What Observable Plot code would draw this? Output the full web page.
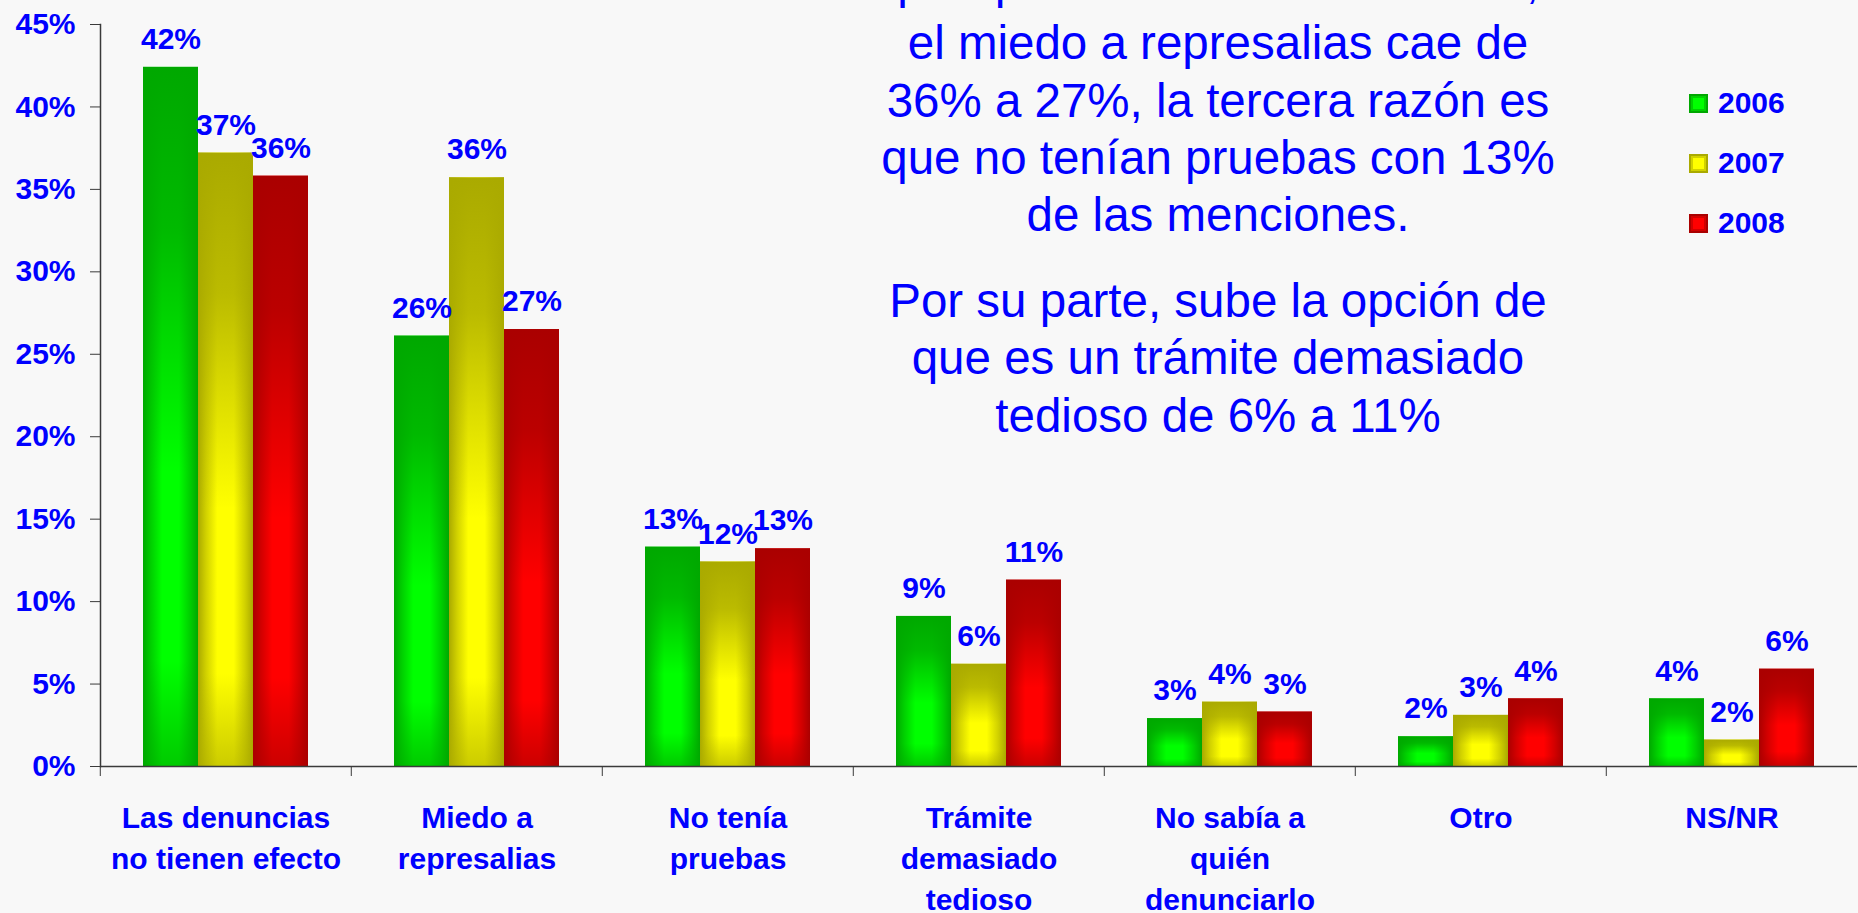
<!DOCTYPE html>
<html>
<head>
<meta charset="utf-8">
<script src="https://cdn.jsdelivr.net/npm/d3@7"></script>
<script src="https://cdn.jsdelivr.net/npm/@observablehq/plot@0.6"></script>
<style>
  html, body { margin: 0; padding: 0; background: #f8f8f8; overflow: hidden; width: 1858px; height: 913px; }
  #wrap { position: relative; width: 1858px; height: 913px; overflow: hidden; }
  #chart { position: absolute; left: 0; top: 0; }
  #note { position: absolute; left: 718px; width: 1000px; top: -43px; text-align: center;
          font-family: 'Liberation Sans', Arial, sans-serif; font-size: 47.5px; line-height: 57.3px; color: #0000ff; }
  #note p { margin: 0; }
  #note p + p { margin-top: 28.7px; }
  #note .cut { position: relative; top: -4px; }
  #legend { position: absolute; left: 1689px; top: 73px; font-family: 'Liberation Sans', Arial, sans-serif;
            font-weight: bold; font-size: 30px; color: #0000ff; }
  .row { height: 60px; display: flex; align-items: center; }
  .sw { width: 19px; height: 19px; margin-right: 10px; box-sizing: border-box; }
</style>
</head>
<body>
<div id="wrap">
  <div id="chart"></div>
  <div id="note"></div>
  <div id="legend"></div>
</div>
<script>
// ---- data ----
const categories = [
  "Las denuncias\nno tienen efecto",
  "Miedo a\nrepresalias",
  "No tenía\npruebas",
  "Trámite\ndemasiado\ntedioso",
  "No sabía a\nquién\ndenunciarlo",
  "Otro",
  "NS/NR"
];
const years = ["2006", "2007", "2008"];
const values2006 = [42.4, 26.1, 13.3, 9.1, 2.9, 1.8, 4.1];
const values2007 = [37.2, 35.7, 12.4, 6.2, 3.9, 3.1, 1.6];
const values2008 = [35.8, 26.5, 13.2, 11.3, 3.3, 4.1, 5.9];
const labels2006 = ["42%", "26%", "13%", "9%", "3%", "2%", "4%"];
const labels2007 = ["37%", "36%", "12%", "6%", "4%", "3%", "2%"];
const labels2008 = ["36%", "27%", "13%", "11%", "3%", "4%", "6%"];
const yTicks = [0, 5, 10, 15, 20, 25, 30, 35, 40, 45];
const noteParagraph1 = [
  "por que esto no sirve de nada,",
  "el miedo a represalias cae de",
  "36% a 27%, la tercera razón es",
  "que no tenían pruebas con 13%",
  "de las menciones."
];
const noteParagraph2 = [
  "Por su parte, sube la opción de",
  "que es un trámite demasiado",
  "tedioso de 6% a 11%"
];

// ---- styles ----
const blue = "#0000ff";
const axisColor = "#3a3a3a";
const font = "'Liberation Sans', Arial, Helvetica, sans-serif";
const shades = {
  "2006": {dark: "#00a800", mid: "#00d000", bright: "#00ff00"},
  "2007": {dark: "#aaaa00", mid: "#d2d200", bright: "#ffff00"},
  "2008": {dark: "#aa0000", mid: "#d20000", bright: "#ff0000"}
};

const seriesValues = [values2006, values2007, values2008];
const seriesLabels = [labels2006, labels2007, labels2008];
const rows = [];
categories.forEach((c, i) => {
  years.forEach((yr, j) => rows.push({category: c, year: yr, value: seriesValues[j][i], label: seriesLabels[j][i]}));
});

const W = 1858, H = 913, mL = 98, mR = 0, mT = 24, mB = 147;
const bandStep = (W - mL - mR) / categories.length;

const chart = Plot.plot({
  width: W, height: H,
  marginLeft: mL, marginRight: mR, marginTop: mT, marginBottom: mB,
  style: {background: "transparent", fontFamily: font, overflow: "visible"},
  fx: {domain: categories, padding: 0, label: null},
  x: {domain: years, paddingInner: 0, paddingOuter: 0.76, axis: null},
  y: {domain: [0, 45], label: null},
  marks: [
    ...years.map(yr => Plot.barY(rows.filter(d => d.year === yr),
      {fx: "category", x: "year", y: "value", fill: `url(#h${yr})`})),
    ...years.map(yr => Plot.barY(rows.filter(d => d.year === yr),
      {fx: "category", x: "year", y: "value", fill: `url(#v${yr})`})),
    Plot.ruleY([0], {stroke: axisColor, strokeWidth: 1.5}),
    Plot.frame({anchor: "left", facetAnchor: "left", stroke: axisColor, strokeWidth: 1.5}),
    Plot.axisY({ticks: yTicks, tickFormat: d => d + "%", tickSize: 10, tickPadding: 15,
      fontSize: 30, fontWeight: "bold", fill: blue, stroke: axisColor, label: null}),
    Plot.axisFx({anchor: "bottom", tickSize: 10, fill: "none", tickFormat: () => "",
      stroke: axisColor, dx: -bandStep / 2, label: null}),
    Plot.axisFx({anchor: "bottom", tickSize: 0, tickPadding: 32, fontSize: 30, fontWeight: "bold",
      fill: blue, lineHeight: 1.37, label: null}),
    Plot.text(rows, {fx: "category", x: "year", y: "value", text: "label", dy: -28,
      fontSize: 30, fontWeight: "bold", fill: blue})
  ]
});

// gradient definitions (box-like gradient: horizontal ramp + vertical darkening overlay)
let defs = "";
years.forEach(yr => {
  const s = shades[yr];
  defs += `<linearGradient id="h${yr}" x1="0" x2="1" y1="0" y2="0">
    <stop offset="0" stop-color="${s.dark}"/>
    <stop offset="0.15" stop-color="${s.mid}"/>
    <stop offset="0.35" stop-color="${s.bright}"/>
    <stop offset="0.65" stop-color="${s.bright}"/>
    <stop offset="0.85" stop-color="${s.mid}"/>
    <stop offset="1" stop-color="${s.dark}"/>
  </linearGradient>
  <linearGradient id="v${yr}" x1="0" x2="0" y1="0" y2="1">
    <stop offset="0" stop-color="${s.dark}" stop-opacity="1"/>
    <stop offset="0.23" stop-color="${s.dark}" stop-opacity="0.8"/>
    <stop offset="0.4" stop-color="${s.dark}" stop-opacity="0.4"/>
    <stop offset="0.58" stop-color="${s.dark}" stop-opacity="0"/>
    <stop offset="0.85" stop-color="${s.dark}" stop-opacity="0"/>
    <stop offset="1" stop-color="${s.dark}" stop-opacity="0.6"/>
  </linearGradient>`;
});
d3.select(chart).insert("defs", ":first-child").html(defs);
document.getElementById("chart").appendChild(chart);

// annotation text
const note = d3.select("#note");
[noteParagraph1, noteParagraph2].forEach((par, k) => {
  const p = note.append("p");
  par.forEach((line, i) => {
    if (i) p.append("br");
    p.append("span").attr("class", k === 0 && i === 0 ? "cut" : null).text(line);
  });
});

// legend
const legend = d3.select("#legend");
years.forEach(yr => {
  const s = shades[yr];
  const row = legend.append("div").attr("class", "row");
  row.append("div").attr("class", "sw")
    .style("background", s.bright)
    .style("box-shadow", `inset 0 0 0 2px ${s.dark}, inset 0 0 0 4px ${s.mid}, inset 0 0 0 6px ${s.bright}`);
  row.append("span").text(yr);
});
</script>
</body>
</html>
